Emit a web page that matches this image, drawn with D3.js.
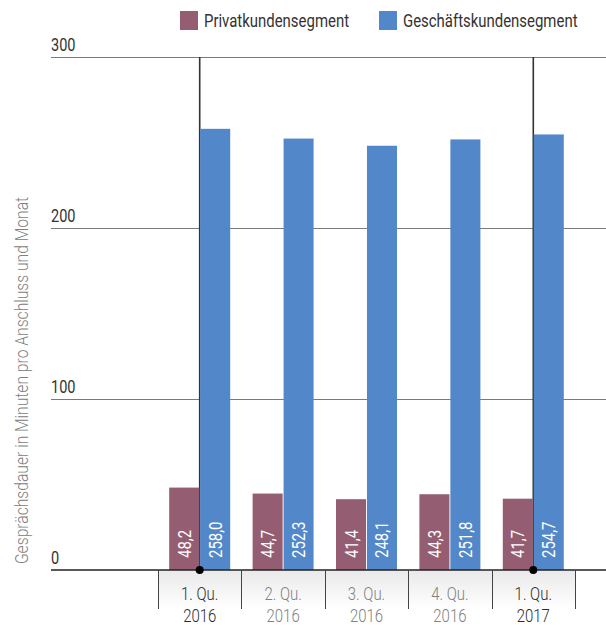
<!DOCTYPE html>
<html>
<head>
<meta charset="utf-8">
<script src="https://cdn.jsdelivr.net/npm/d3@7"></script>
<style>
  html, body { margin: 0; padding: 0; background: #fff; }
  svg { display: block; font-family: "Roboto", "Liberation Sans", sans-serif; }
</style>
</head>
<body>
<svg id="chart" width="606" height="625"></svg>
<script>
// Quarterly call duration per connection and month
const quarters = ["1. Qu.|2016", "2. Qu.|2016", "3. Qu.|2016", "4. Qu.|2016", "1. Qu.|2017"];
const seriesNames = ["Privatkundensegment", "Geschäftskundensegment"];
const privatValues = [48.2, 44.7, 41.4, 44.3, 41.7];
const geschaeftValues = [258.0, 252.3, 248.1, 251.8, 254.7];
const yTicks = [0, 100, 200, 300];
const highlighted = ["1. Qu.|2016", "1. Qu.|2017"];
const colors = ["#945d71", "#5288c9"];
const yTitle = "Gesprächsdauer in Minuten pro Anschluss und Monat";

// horizontal squeeze giving the narrow look of the typeface
const K = 0.83;

const svg = d3.select("#chart");

const y = d3.scaleLinear().domain([0, 300]).range([570, 57]);
const x = d3.scaleBand().domain(quarters).range([158, 575]);
const xSub = d3.scaleBand().domain(seriesNames).range([-30.5, 30.5]).paddingInner(0.03);

const fmt = v => v.toFixed(1).replace(".", ",");

// gradient behind the category axis
const defs = svg.append("defs");
const grad = defs.append("linearGradient").attr("id", "axisBg")
  .attr("x1", 0).attr("y1", 0).attr("x2", 0).attr("y2", 1);
grad.append("stop").attr("offset", "0%").attr("stop-color", "#e9e9e9");
grad.append("stop").attr("offset", "100%").attr("stop-color", "#ffffff");
svg.append("rect")
  .attr("x", x.range()[0]).attr("y", y(0))
  .attr("width", x.range()[1] - x.range()[0]).attr("height", 39)
  .attr("fill", "url(#axisBg)");

// horizontal gridlines and value labels
const grid = svg.append("g");
yTicks.filter(t => t > 0).forEach(t => {
  grid.append("line")
    .attr("x1", 51).attr("x2", 606)
    .attr("y1", Math.round(y(t)) + 0.5).attr("y2", Math.round(y(t)) + 0.5)
    .attr("stroke", "#7a7a7a").attr("stroke-width", 1);
});
yTicks.forEach(t => {
  grid.append("text")
    .attr("transform", `translate(51,${y(t) - 6}) scale(${K},1)`)
    .attr("font-size", 17.5).attr("fill", "#333")
    .text(t);
});

// highlight lines for the year-start quarters
highlighted.forEach(q => {
  const cx = x(q) + x.bandwidth() / 2;
  svg.append("line")
    .attr("x1", cx).attr("x2", cx)
    .attr("y1", y(300)).attr("y2", y(0))
    .attr("stroke", "#333").attr("stroke-width", 1.6);
});

// bars
const rows = quarters.map((q, i) => ({ q, values: [privatValues[i], geschaeftValues[i]] }));
const groups = svg.append("g").selectAll("g").data(rows).join("g")
  .attr("transform", d => `translate(${x(d.q) + x.bandwidth() / 2},0)`);

groups.selectAll("rect").data(d => d.values.map((v, k) => ({ v, k })))
  .join("rect")
  .attr("x", d => xSub(seriesNames[d.k]))
  .attr("width", xSub.bandwidth())
  .attr("y", d => y(d.v))
  .attr("height", d => y(0) - y(d.v))
  .attr("fill", d => colors[d.k]);

groups.selectAll("text.val").data(d => d.values.map((v, k) => ({ v, k })))
  .join("text")
  .attr("class", "val")
  .attr("transform", d => `translate(${xSub(seriesNames[d.k]) + xSub.bandwidth() / 2 + 6.5},${y(0) - 12}) rotate(-90) scale(${K},1)`)
  .attr("font-size", 18).attr("fill", "#fff")
  .text(d => fmt(d.v));

// baseline
svg.append("line")
  .attr("x1", 51).attr("x2", 606)
  .attr("y1", y(0)).attr("y2", y(0))
  .attr("stroke", "#222").attr("stroke-width", 1.5);

// dots on the baseline for highlighted quarters
highlighted.forEach(q => {
  svg.append("circle")
    .attr("cx", x(q) + x.bandwidth() / 2).attr("cy", y(0)).attr("r", 4)
    .attr("fill", "#000");
});

// category axis
const xAxis = svg.append("g");
const bounds = quarters.map(q => x(q)).concat([x.range()[1]]);
bounds.forEach(b => {
  xAxis.append("line")
    .attr("x1", Math.round(b) + 0.5).attr("x2", Math.round(b) + 0.5)
    .attr("y1", y(0)).attr("y2", y(0) + 39)
    .attr("stroke", "#444").attr("stroke-width", 1);
});
quarters.forEach(q => {
  const [l1, l2] = q.split("|");
  const col = highlighted.includes(q) ? "#2a2a2a" : "#808080";
  const cx = x(q) + x.bandwidth() / 2;
  [[l1, 600], [l2, 622]].forEach(([s, yy]) => {
    xAxis.append("text")
      .attr("transform", `translate(${cx},${yy}) scale(${K},1)`)
      .attr("text-anchor", "middle")
      .attr("font-size", 18).attr("font-weight", 300).attr("fill", col)
      .text(s);
  });
});

// y axis title
svg.append("text")
  .attr("transform", `translate(28,${(196 + 565) / 2}) rotate(-90) scale(0.87,1)`)
  .attr("text-anchor", "middle")
  .attr("font-size", 18).attr("font-weight", 300).attr("fill", "#808080")
  .text(yTitle);

// legend
const legendX = [180, 379];
seriesNames.forEach((s, i) => {
  svg.append("rect").attr("x", legendX[i]).attr("y", 11).attr("width", 18).attr("height", 19)
    .attr("fill", colors[i]);
  svg.append("text")
    .attr("transform", `translate(${legendX[i] + 24},27) scale(${K},1)`)
    .attr("font-size", 18).attr("fill", "#333").text(s);
});
</script>
</body>
</html>
